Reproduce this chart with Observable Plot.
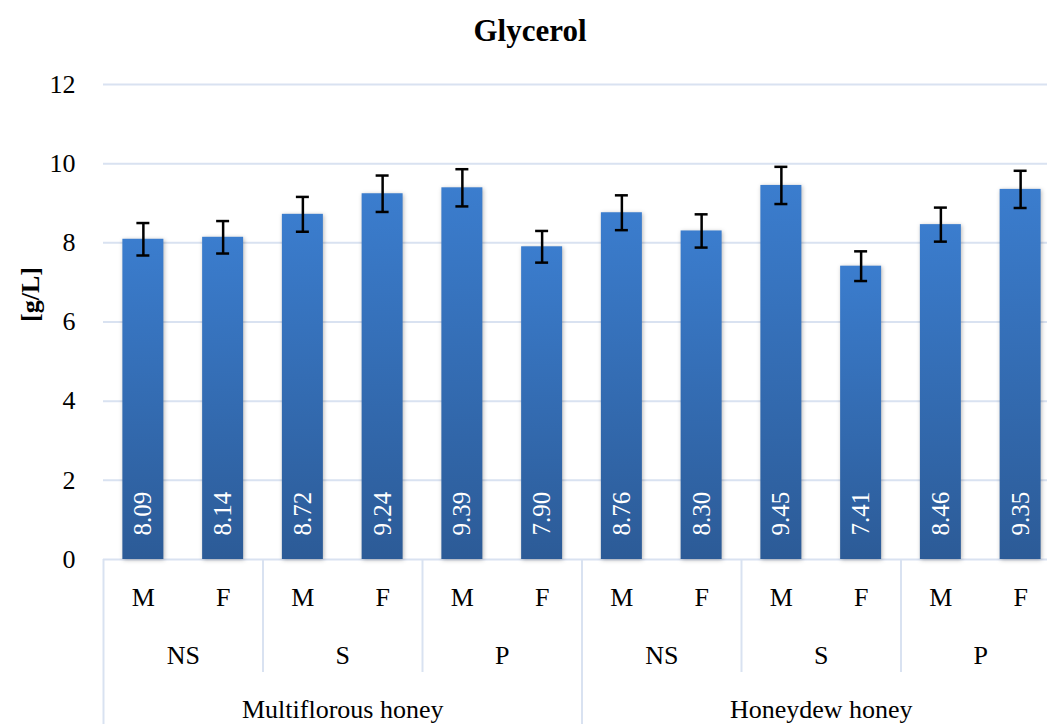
<!DOCTYPE html>
<html><head><meta charset="utf-8">
<script src="https://cdn.jsdelivr.net/npm/d3@7"></script>
<script src="https://cdn.jsdelivr.net/npm/@observablehq/plot@0.6"></script>
<style>
body{margin:0;background:#fff;}
#title{height:60px;width:1060px;text-align:center;font:bold 31px "Liberation Serif",serif;line-height:62px;color:#000;}
</style></head><body>
<div id="title">Glycerol</div>
<div id="chart"></div>
<script>
const honeys = ["Multiflorous honey", "Honeydew honey"];
const treatments = ["NS", "S", "P"];
const sexes = ["M", "F"];
const values = [8.09, 8.14, 8.72, 9.24, 9.39, 7.90, 8.76, 8.30, 9.45, 7.41, 8.46, 9.35];
const errors = [0.41, 0.41, 0.44, 0.46, 0.47, 0.40, 0.44, 0.42, 0.47, 0.375, 0.43, 0.47];
const yTicks = [0, 2, 4, 6, 8, 10, 12];

const data = [];
let idx = 0;
for (const h of honeys) for (const t of treatments) for (const s of sexes) {
  data.push({key: `${h}|${t}|${s}`, honey: h, treatment: t, sex: s, value: values[idx], err: errors[idx]});
  idx++;
}
const keys = data.map(d => d.key);
const xRange = [103, 1060];
const step = (xRange[1] - xRange[0]) / keys.length;
const treatLabels = data.filter(d => d.sex === "F");
const honeyLabels = data.filter(d => d.treatment === "S" && d.sex === "F");
const shortSeps = data.filter(d => d.sex === "M" && d.treatment !== "NS");
const longSeps = data.filter(d => d.sex === "M" && d.treatment === "NS");
const grid = "#d9e2f1";
const fs = 26;
const font = "'Liberation Serif', serif";

const svg = Plot.plot({
  width: 1047,
  height: 664,
  marginLeft: 103,
  marginRight: 0,
  marginTop: 24,
  marginBottom: 165,
  style: {fontFamily: font, fontSize: fs + "px", color: "#000", background: "#fff"},
  x: {domain: keys, range: xRange, paddingInner: 0.486, paddingOuter: 0.243, round: false, axis: null},
  y: {domain: [0, 12], axis: null},
  marks: [
    Plot.ruleY(yTicks, {stroke: grid, strokeWidth: 2}),
    Plot.barY(data, {x: "key", y: "value", fill: "url(#barGrad)"}),
    Plot.ruleX(data, {x: "key", y1: d => d.value - d.err, y2: d => d.value + d.err, stroke: "#000", strokeWidth: 2.5}),
    Plot.tickY(data, {x: "key", y: d => d.value + d.err, stroke: "#000", strokeWidth: 2.5, insetLeft: 14, insetRight: 14}),
    Plot.tickY(data, {x: "key", y: d => d.value - d.err, stroke: "#000", strokeWidth: 2.5, insetLeft: 14, insetRight: 14}),
    Plot.text(data, {x: "key", y: 0, text: d => d.value.toFixed(2), rotate: -90, textAnchor: "start", lineAnchor: "middle", dy: -24, fill: "#fff", fontSize: 25, fontFamily: font}),
    // y tick labels
    Plot.text(yTicks, {y: d => d, text: d => String(d), frameAnchor: "left", textAnchor: "end", dx: -28, fontSize: fs}),
    // y label
    Plot.text(["[g/L]"], {frameAnchor: "left", text: d => d, rotate: -90, dx: -73, fontWeight: "bold", fontSize: fs}),
    // hierarchical x axis
    Plot.text(data, {x: "key", y: 0, text: "sex", dy: 38, fontSize: fs}),
    Plot.text(treatLabels, {x: "key", y: 0, text: "treatment", dx: -step / 2, dy: 96, fontSize: fs}),
    Plot.text(honeyLabels, {x: "key", y: 0, text: "honey", dx: -step / 2, dy: 150, fontSize: fs}),
    Plot.ruleX(shortSeps, {x: "key", y1: 0, y2: 0, dx: -step / 2, insetBottom: -113, stroke: grid, strokeWidth: 2}),
    Plot.ruleX(longSeps, {x: "key", y1: 0, y2: 0, dx: -step / 2, insetBottom: -165, stroke: grid, strokeWidth: 2})
  ]
});

const s = d3.select(svg);
s.insert("defs", ":first-child").html(
  `<linearGradient id="barGrad" x1="0" y1="0" x2="0" y2="1">
     <stop offset="0%" stop-color="#3b7dce"/>
     <stop offset="100%" stop-color="#2c5b97"/>
   </linearGradient>`);
s.selectAll('g[aria-label="bar"]').style("filter", "drop-shadow(1px 1px 2px rgba(0,0,0,0.28))");
document.getElementById("chart").appendChild(svg);
</script>
</body></html>
